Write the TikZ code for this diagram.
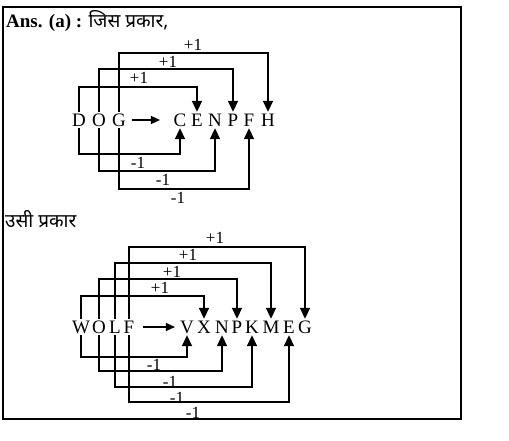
\documentclass[tikz,border=0pt]{standalone}
\usepackage{fontspec}
\setmainfont{Liberation Serif}
\newfontfamily\hindifont[Script=Devanagari]{Noto Sans}
\usetikzlibrary{arrows.meta}

\begin{document}
\begin{tikzpicture}[x=1pt, y=-1pt,
    letter/.style={font=\fontsize{19}{19}\selectfont, inner sep=1.5pt,
                   text height=13pt, text depth=0pt},
    conn/.style={line width=1.8pt, -{Triangle[width=10pt,length=11pt]}},
    maparrow/.style={line width=1.3pt, -{Triangle[width=8pt,length=9pt]}},
    lbl/.style={font=\fontsize{17}{17}\selectfont, inner sep=0pt},
    head/.style={font=\fontsize{19}{19}\selectfont, inner sep=0pt, anchor=base west}]
  \useasboundingbox (0,0) rectangle (509,441);
  \draw[line width=1.2pt] (3,7) rectangle (461,419);

  % first example: DOG -> CENPFH
  \node[head] (head1) at (6,28) {\textbf{Ans. (a) :} {\hindifont जिस प्रकार,}};
  \foreach \l/\x in {D/79, O/99, G/119, C/180, E/197, N/215, P/233, F/249, H/268}
    \node[letter] (\l1) at (\x,120) {\l};
  \draw[maparrow, shorten <=4.5pt, shorten >=12pt] (G1) -- (C1);
  \foreach \s/\t/\h in {D/E/25, O/P/43, G/H/59}
    \draw[conn] (\s1.north) -- ++(0,-\h) -| (\t1.north);
  \foreach \s/\t/\h in {D/C/26, O/N/43, G/F/61}
    \draw[conn] (\s1.south) -- ++(0,\h) -| (\t1.south);
  \foreach \n/\x/\y in {a/139/78, b/168/62, c/193/45}
    \node[lbl] (plus1\n) at (\x,\y) {+1};
  \foreach \n/\x/\y in {a/138/163, b/163/180, c/178/198}
    \node[lbl] (minus1\n) at (\x,\y) {-1};

  % second example: WOLF -> VXNPKMEG
  \node[head] (head2) at (5,227) {\hindifont उसी प्रकार};
  \foreach \l/\x in {W/81, O/99, L/115, F/129, V/187, X/204, N/222, P/237, K/252, M/271, E/289, G/305}
    \node[letter] (\l2) at (\x,327) {\l};
  \draw[maparrow, shorten <=7pt, shorten >=3.5pt] (F2) -- (V2);
  \foreach \s/\t/\h in {W/X/23, O/P/40, L/M/56, F/G/72}
    \draw[conn] (\s2.north) -- ++(0,-\h) -| (\t2.north);
  \foreach \s/\t/\h in {W/V/22, O/N/36, L/K/52, F/E/67}
    \draw[conn] (\s2.south) -- ++(0,\h) -| (\t2.south);
  \foreach \n/\x/\y in {a/160/288, b/172/272, c/188/255, d/215/238}
    \node[lbl] (plus2\n) at (\x,\y) {+1};
  \foreach \n/\x/\y in {a/154/365, b/170/382, c/177/398, d/193/413}
    \node[lbl] (minus2\n) at (\x,\y) {-1};
\end{tikzpicture}
\end{document}
